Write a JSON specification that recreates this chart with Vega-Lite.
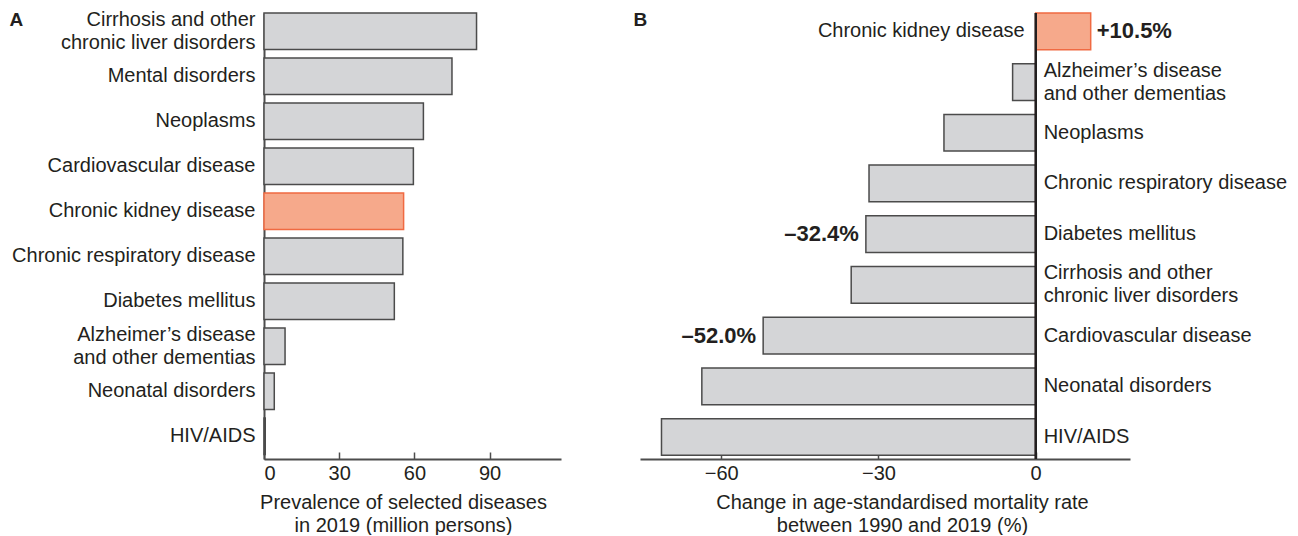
{
  "$schema": "https://vega.github.io/schema/vega-lite/v6.json",
  "padding": {"left": 9, "top": 9, "right": 0, "bottom": 0},
  "background": "white",
  "config": {
    "font": "Liberation Sans",
    "view": {"stroke": null},
    "axis": {
      "labelFont": "Liberation Sans", "titleFont": "Liberation Sans",
      "labelFontSize": 20, "titleFontSize": 20, "titleFontWeight": "normal",
      "labelColor": "#231f20", "titleColor": "#231f20",
      "domainColor": "#4d4d4d", "domainWidth": 2, "tickColor": "#4d4d4d", "tickWidth": 1.5,
      "grid": false
    }
  },
  "datasets": {
    "prev": [
      {"disease": "Cirrhosis and other|chronic liver disorders", "value": 84.8, "hl": "no"},
      {"disease": "Mental disorders", "value": 75.0, "hl": "no"},
      {"disease": "Neoplasms", "value": 63.6, "hl": "no"},
      {"disease": "Cardiovascular disease", "value": 59.6, "hl": "no"},
      {"disease": "Chronic kidney disease", "value": 55.7, "hl": "yes"},
      {"disease": "Chronic respiratory disease", "value": 55.4, "hl": "no"},
      {"disease": "Diabetes mellitus", "value": 52.0, "hl": "no"},
      {"disease": "Alzheimer’s disease|and other dementias", "value": 8.4, "hl": "no"},
      {"disease": "Neonatal disorders", "value": 4.1, "hl": "no"},
      {"disease": "HIV/AIDS", "value": 0.5, "hl": "no"}
    ],
    "change": [
      {"disease": "Chronic kidney disease", "value": 10.5, "hl": "yes", "label": "+10.5%"},
      {"disease": "Alzheimer’s disease|and other dementias", "value": -4.4, "hl": "no", "label": ""},
      {"disease": "Neoplasms", "value": -17.5, "hl": "no", "label": ""},
      {"disease": "Chronic respiratory disease", "value": -31.8, "hl": "no", "label": ""},
      {"disease": "Diabetes mellitus", "value": -32.4, "hl": "no", "label": "–32.4%"},
      {"disease": "Cirrhosis and other|chronic liver disorders", "value": -35.2, "hl": "no", "label": ""},
      {"disease": "Cardiovascular disease", "value": -52.0, "hl": "no", "label": "–52.0%"},
      {"disease": "Neonatal disorders", "value": -63.7, "hl": "no", "label": ""},
      {"disease": "HIV/AIDS", "value": -71.4, "hl": "no", "label": ""}
    ]
  },
  "hconcat": [
    {
      "width": 297, "height": 446,
      "data": {"name": "prev"},
      "mark": {"type": "bar", "strokeWidth": 1.5},
      "encoding": {
        "y": {"field": "disease", "type": "nominal", "sort": null,
              "scale": {"paddingInner": 0.19, "paddingOuter": 0.05, "align": 0, "round": false},
              "axis": {"title": "A", "titleAngle": 0, "titleX": -255, "titleY": 6, "titleAlign": "left",
                       "titleBaseline": "middle", "titleFontWeight": "bold", "titleFontSize": 19,
                       "ticks": false, "labelPadding": 9, "labelLimit": 400,
                       "labelExpr": "split(datum.label, '|')", "labelLineHeight": 23,
                       "labelOffset": {"condition": {"test": "indexof(datum.value, '|') >= 0", "value": -11.5}, "value": 0}}},
        "x": {"field": "value", "type": "quantitative",
              "scale": {"domain": [0, 118.5], "nice": false, "zero": true},
              "axis": {"values": [0, 30, 60, 90], "tickSize": -7, "labelPadding": 11,
                       "title": ["Prevalence of selected diseases", "in 2019 (million persons)"],
                       "titleLineHeight": 23, "titlePadding": 9, "titleX": 139}},
        "fill": {"field": "hl", "type": "nominal", "legend": null,
                 "scale": {"domain": ["no", "yes"], "range": ["#d4d5d7", "#f6a98b"]}},
        "stroke": {"field": "hl", "type": "nominal", "legend": null,
                   "scale": {"domain": ["no", "yes"], "range": ["#4b4b4b", "#f06a42"]}}
      }
    },
    {
      "width": 490, "height": 446,
      "data": {"name": "change"},
      "encoding": {
        "y": {"field": "disease", "type": "nominal", "sort": null,
              "scale": {"paddingInner": 0.276, "paddingOuter": 0.036, "align": 0, "round": false},
              "axis": {"title": "B", "titleAngle": 0, "titleX": -7, "titleY": 6, "titleAlign": "left",
                       "titleBaseline": "middle", "titleFontWeight": "bold", "titleFontSize": 19,
                       "labels": false, "ticks": false, "domain": false}}
      },
      "layer": [
        {
          "mark": {"type": "bar", "strokeWidth": 1.5},
          "encoding": {
            "x": {"field": "value", "type": "quantitative",
                  "scale": {"domain": [-75.5, 18], "nice": false, "zero": false},
                  "axis": {"values": [-60, -30, 0], "tickSize": -7, "labelPadding": 11,
                           "title": ["Change in age-standardised mortality rate", "between 1990 and 2019 (%)"],
                           "titleLineHeight": 23, "titlePadding": 9, "titleX": 262}},
            "fill": {"field": "hl", "type": "nominal", "legend": null,
                     "scale": {"domain": ["no", "yes"], "range": ["#d4d5d7", "#f6a98b"]}},
            "stroke": {"field": "hl", "type": "nominal", "legend": null,
                       "scale": {"domain": ["no", "yes"], "range": ["#4b4b4b", "#f06a42"]}}
          }
        },
        {
          "mark": {"type": "rule", "color": "#231f20", "strokeWidth": 1.5},
          "encoding": {"x": {"datum": 0, "type": "quantitative"}, "y": null}
        },
        {
          "transform": [{"filter": "datum.value < 0 && indexof(datum.disease, '|') < 0"}],
          "mark": {"type": "text", "align": "left", "baseline": "middle", "dx": 8, "fontSize": 20,
                   "color": "#231f20"},
          "encoding": {"x": {"datum": 0, "type": "quantitative"}, "text": {"field": "disease"}}
        },
        {
          "transform": [{"filter": "datum.value < 0 && indexof(datum.disease, '|') >= 0"}],
          "mark": {"type": "text", "align": "left", "baseline": "middle", "dx": 8, "dy": -11.5, "fontSize": 20,
                   "lineBreak": "|", "lineHeight": 23, "color": "#231f20"},
          "encoding": {"x": {"datum": 0, "type": "quantitative"}, "text": {"field": "disease"}}
        },
        {
          "transform": [{"filter": "datum.value > 0"}],
          "mark": {"type": "text", "align": "right", "baseline": "middle", "dx": -11, "fontSize": 20,
                   "color": "#231f20"},
          "encoding": {"x": {"datum": 0, "type": "quantitative"}, "text": {"field": "disease"}}
        },
        {
          "transform": [{"filter": "datum.label != '' && datum.value > 0"}],
          "mark": {"type": "text", "align": "left", "baseline": "middle", "dx": 6, "fontSize": 22,
                   "fontWeight": "bold", "color": "#231f20"},
          "encoding": {"x": {"field": "value", "type": "quantitative"}, "text": {"field": "label"}}
        },
        {
          "transform": [{"filter": "datum.label != '' && datum.value < 0"}],
          "mark": {"type": "text", "align": "right", "baseline": "middle", "dx": -7, "fontSize": 22,
                   "fontWeight": "bold", "color": "#231f20"},
          "encoding": {"x": {"field": "value", "type": "quantitative"}, "text": {"field": "label"}}
        }
      ]
    }
  ],
  "spacing": 79,
  "bounds": "flush"
}
